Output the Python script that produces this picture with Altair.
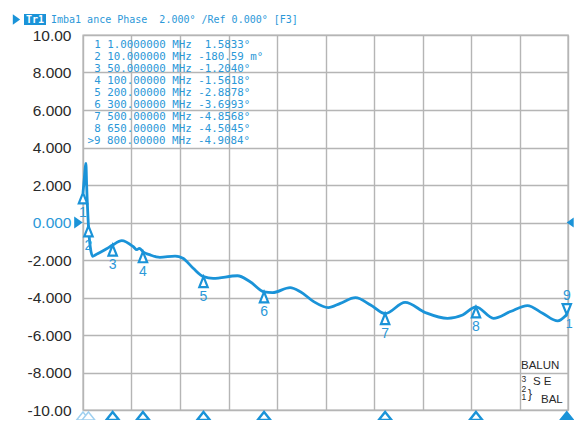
import altair as alt
import pandas as pd
import numpy as np

# ---- data ----
trace_freq = [1, 3, 5, 5.8, 7, 10, 13, 17, 22, 29, 40, 50, 65, 84, 90, 94, 100, 112, 128, 153, 166, 183,
              200, 216, 256, 277, 300, 314, 343, 360, 382, 406, 426, 451, 476, 500, 533, 567, 603, 628,
              650, 679, 707, 735, 760, 785, 800]
trace_vals = [1.58, 2.3, 3.0, 3.15, 2.0, -0.18, -1.3, -1.8, -1.72, -1.6, -1.4, -1.20, -0.97, -1.29, -1.45,
              -1.38, -1.56, -1.73, -1.86, -1.79, -1.91, -2.44, -2.89, -2.98, -2.84, -3.16, -3.70, -3.74,
              -3.47, -3.69, -4.22, -4.54, -4.31, -4.01, -4.40, -4.86, -4.26, -4.81, -5.11, -4.93, -4.50,
              -5.11, -4.75, -4.43, -4.84, -5.25, -4.91]

marker_ids = ["1", "2", "3", "4", "5", "6", "7", "8", "9"]
marker_freq = [1, 10, 50, 100, 200, 300, 500, 650, 800]
marker_vals = [1.5833, -0.18059, -1.2040, -1.5618, -2.8878, -3.6993, -4.8568, -4.5045, -4.9084]

marker_lines = [
    "1 1.0000000 MHz  1.5833°",
    "2 10.000000 MHz -180.59 m°",
    "3 50.000000 MHz -1.2040°",
    "4 100.00000 MHz -1.5618°",
    "5 200.00000 MHz -2.8878°",
    "6 300.00000 MHz -3.6993°",
    "7 500.00000 MHz -4.8568°",
    "8 650.00000 MHz -4.5045°",
]
active_line = ">9 800.00000 MHz -4.9084°"
title_text = "Imba1 ance Phase  2.000° /Ref 0.000° [F3]"
trace_tag = "Tr1"
y_ticks = [10, 8, 6, 4, 2, 0, -2, -4, -6, -8, -10]
y_labels = ["10.00", "8.000", "6.000", "4.000", "2.000", "0.000", "-2.000", "-4.000", "-6.000", "-8.000", "-10.00"]

# ---- styling ----
BLUE = "#1a93d8"
TBLUE = "#2b98d8"
PALE = "#9fd0f0"
GRID = "#b5b5b5"
DARK = "#2a2a2a"
MONO = "DejaVu Sans Mono"
SANS = "Liberation Sans"
NB = "\u00a0"

W, H = 485, 375
xs = alt.Scale(domain=[1, 802], nice=False, zero=False)
ys = alt.Scale(domain=[-10, 10], nice=False, zero=False)

label_expr = "''"
for t, l in zip(y_ticks, y_labels):
    label_expr = f"datum.value == {t} ? '{l}' : ({label_expr})"

x_grid = [float(v) for v in np.linspace(1, 802, 11)]
x_enc = alt.X("f:Q", scale=xs, axis=alt.Axis(values=x_grid, labels=False, ticks=False, domain=False,
                                              title=None, grid=True, gridColor=GRID, gridWidth=1.4))
y_enc = alt.Y("v:Q", scale=ys, axis=alt.Axis(values=y_ticks, labelExpr=label_expr,
                                              labelColor=alt.ExprRef(expr=f"datum.value == 0 ? '{TBLUE}' : '{DARK}'"),
                                              labelFont=SANS, labelFontSize=15.5, labelPadding=12,
                                              ticks=False, domain=False, title=None, grid=True,
                                              gridColor=GRID, gridWidth=1.4))

trace_df = pd.DataFrame({"f": trace_freq, "v": trace_vals})
mk = pd.DataFrame({"f": marker_freq, "v": marker_vals, "id": marker_ids})
mk_up = mk[mk.id != "9"]
mk_dn = mk[mk.id == "9"]

UP = "M0,0L0.8,2L-0.8,2Z"
DOWN = "M0,0L0.8,-2L-0.8,-2Z"
BOT = "M0,0L0.8,1L-0.8,1Z"
RIGHT = "M-0.7,-1L0.7,0L-0.7,1Z"
LEFT = "M0.7,-1L-0.7,0L0.7,1Z"

one = alt.Data(values=[{"a": 1}])

line = alt.Chart(trace_df).mark_line(color=BLUE, strokeWidth=2.8, interpolate="monotone").encode(x=x_enc, y=y_enc)

pts_up = alt.Chart(mk_up).mark_point(shape=UP, size=110, filled=True, fill="white", stroke=BLUE,
                                     strokeWidth=2.2, opacity=1).encode(x=x_enc, y=y_enc)
pts_dn = alt.Chart(mk_dn).mark_point(shape=DOWN, size=110, filled=True, fill="white", stroke=BLUE,
                                     strokeWidth=2.2, opacity=1).encode(x=x_enc, y=y_enc)
lab_up = alt.Chart(mk_up).mark_text(dy=20, font=SANS, fontSize=14, color=TBLUE).encode(x=x_enc, y=y_enc, text="id:N")
lab_dn = alt.Chart(mk_dn).mark_text(dy=-19, font=SANS, fontSize=14, color=TBLUE).encode(x=x_enc, y=y_enc, text="id:N")
tr_tag = alt.Chart(mk_dn).mark_text(dx=6, dy=9, align="right", font=SANS, fontSize=12.5, color=TBLUE).encode(
    x=x_enc, y=y_enc, text=alt.value("1"))

bot_pale = alt.Chart(mk[mk.id.isin(["1", "2"])]).mark_point(shape=BOT, size=256, filled=True, fill="white",
                                                           stroke=PALE, strokeWidth=1.5, opacity=1).encode(
    x=x_enc, y=alt.value(H + 2))
bot_mid = alt.Chart(mk[~mk.id.isin(["1", "2", "9"])]).mark_point(shape=BOT, size=256, filled=True, fill="white",
                                                                stroke=BLUE, strokeWidth=2.4, opacity=1).encode(
    x=x_enc, y=alt.value(H + 2))
bot_act = alt.Chart(mk_dn).mark_point(shape=BOT, size=256, filled=True, fill=BLUE, stroke=BLUE,
                                      strokeWidth=2, opacity=1).encode(x=x_enc, y=alt.value(H + 2))

ref_l = alt.Chart(one).mark_point(shape=RIGHT, size=150, filled=True, color=BLUE, opacity=1).encode(
    x=alt.value(-4.5), y=alt.value(H / 2))
ref_r = alt.Chart(one).mark_point(shape=LEFT, size=100, filled=True, color=BLUE, opacity=1).encode(
    x=alt.value(W + 2.2), y=alt.value(H / 2))

mlist = alt.Chart(one).mark_text(text=[s.replace(" ", NB) for s in marker_lines], align="left",
                                 baseline="alphabetic", lineHeight=12, font=MONO, fontSize=10.8,
                                 color=TBLUE).encode(x=alt.value(11.2), y=alt.value(12.7))
mact = alt.Chart(one).mark_text(text=active_line.replace(" ", NB), align="left",
                                baseline="alphabetic", font=MONO, fontSize=10.8,
                                color=TBLUE).encode(x=alt.value(4.4), y=alt.value(12.7 + 8 * 12))

t_tri = alt.Chart(one).mark_point(shape=RIGHT, size=110, filled=True, color=BLUE, opacity=1).encode(
    x=alt.value(-66.5), y=alt.value(-15.5))
t_box = alt.Chart(one).mark_rect(color=BLUE).encode(x=alt.value(-59), x2=alt.value(-37),
                                                    y=alt.value(-21), y2=alt.value(-10))
t_tag = alt.Chart(one).mark_text(text=trace_tag, font=MONO, fontSize=10, fontWeight="bold", color="white",
                                 baseline="middle").encode(x=alt.value(-48), y=alt.value(-15.5))
t_txt = alt.Chart(one).mark_text(text=title_text.replace(" ", NB), font=MONO, fontSize=10, color=TBLUE,
                                 align="left", baseline="middle").encode(x=alt.value(-32), y=alt.value(-15.5))


def txt(s, x, y, size):
    return alt.Chart(one).mark_text(text=s, font=SANS, fontSize=size, color=DARK, align="left",
                                    baseline="middle").encode(x=alt.value(x), y=alt.value(y))


balun = [
    txt("BALUN", 438, 330.5, 11.5),
    txt("3", 438.5, 343.5, 8.5),
    txt("S" + NB + "E", 450, 346.5, 11.5),
    txt("2", 438.5, 353.5, 8.5),
    txt("1", 438.5, 362, 8.5),
    txt("}", 445, 358.5, 12),
    txt("BAL", 458, 365, 11.5),
]

chart = alt.layer(
    line, pts_up, pts_dn, lab_up, lab_dn, tr_tag, bot_pale, bot_mid, bot_act, ref_l, ref_r,
    mlist, mact, t_tri, t_box, t_tag, t_txt, *balun
).properties(
    width=W, height=H,
    autosize=alt.AutoSizeParams(type="none"),
    padding={"left": 75, "top": 27, "right": 6, "bottom": 10},
    background="white",
).configure_view(stroke=GRID, strokeWidth=1.4)

chart.save("out.html", embed_options={"renderer": "svg", "actions": False})
